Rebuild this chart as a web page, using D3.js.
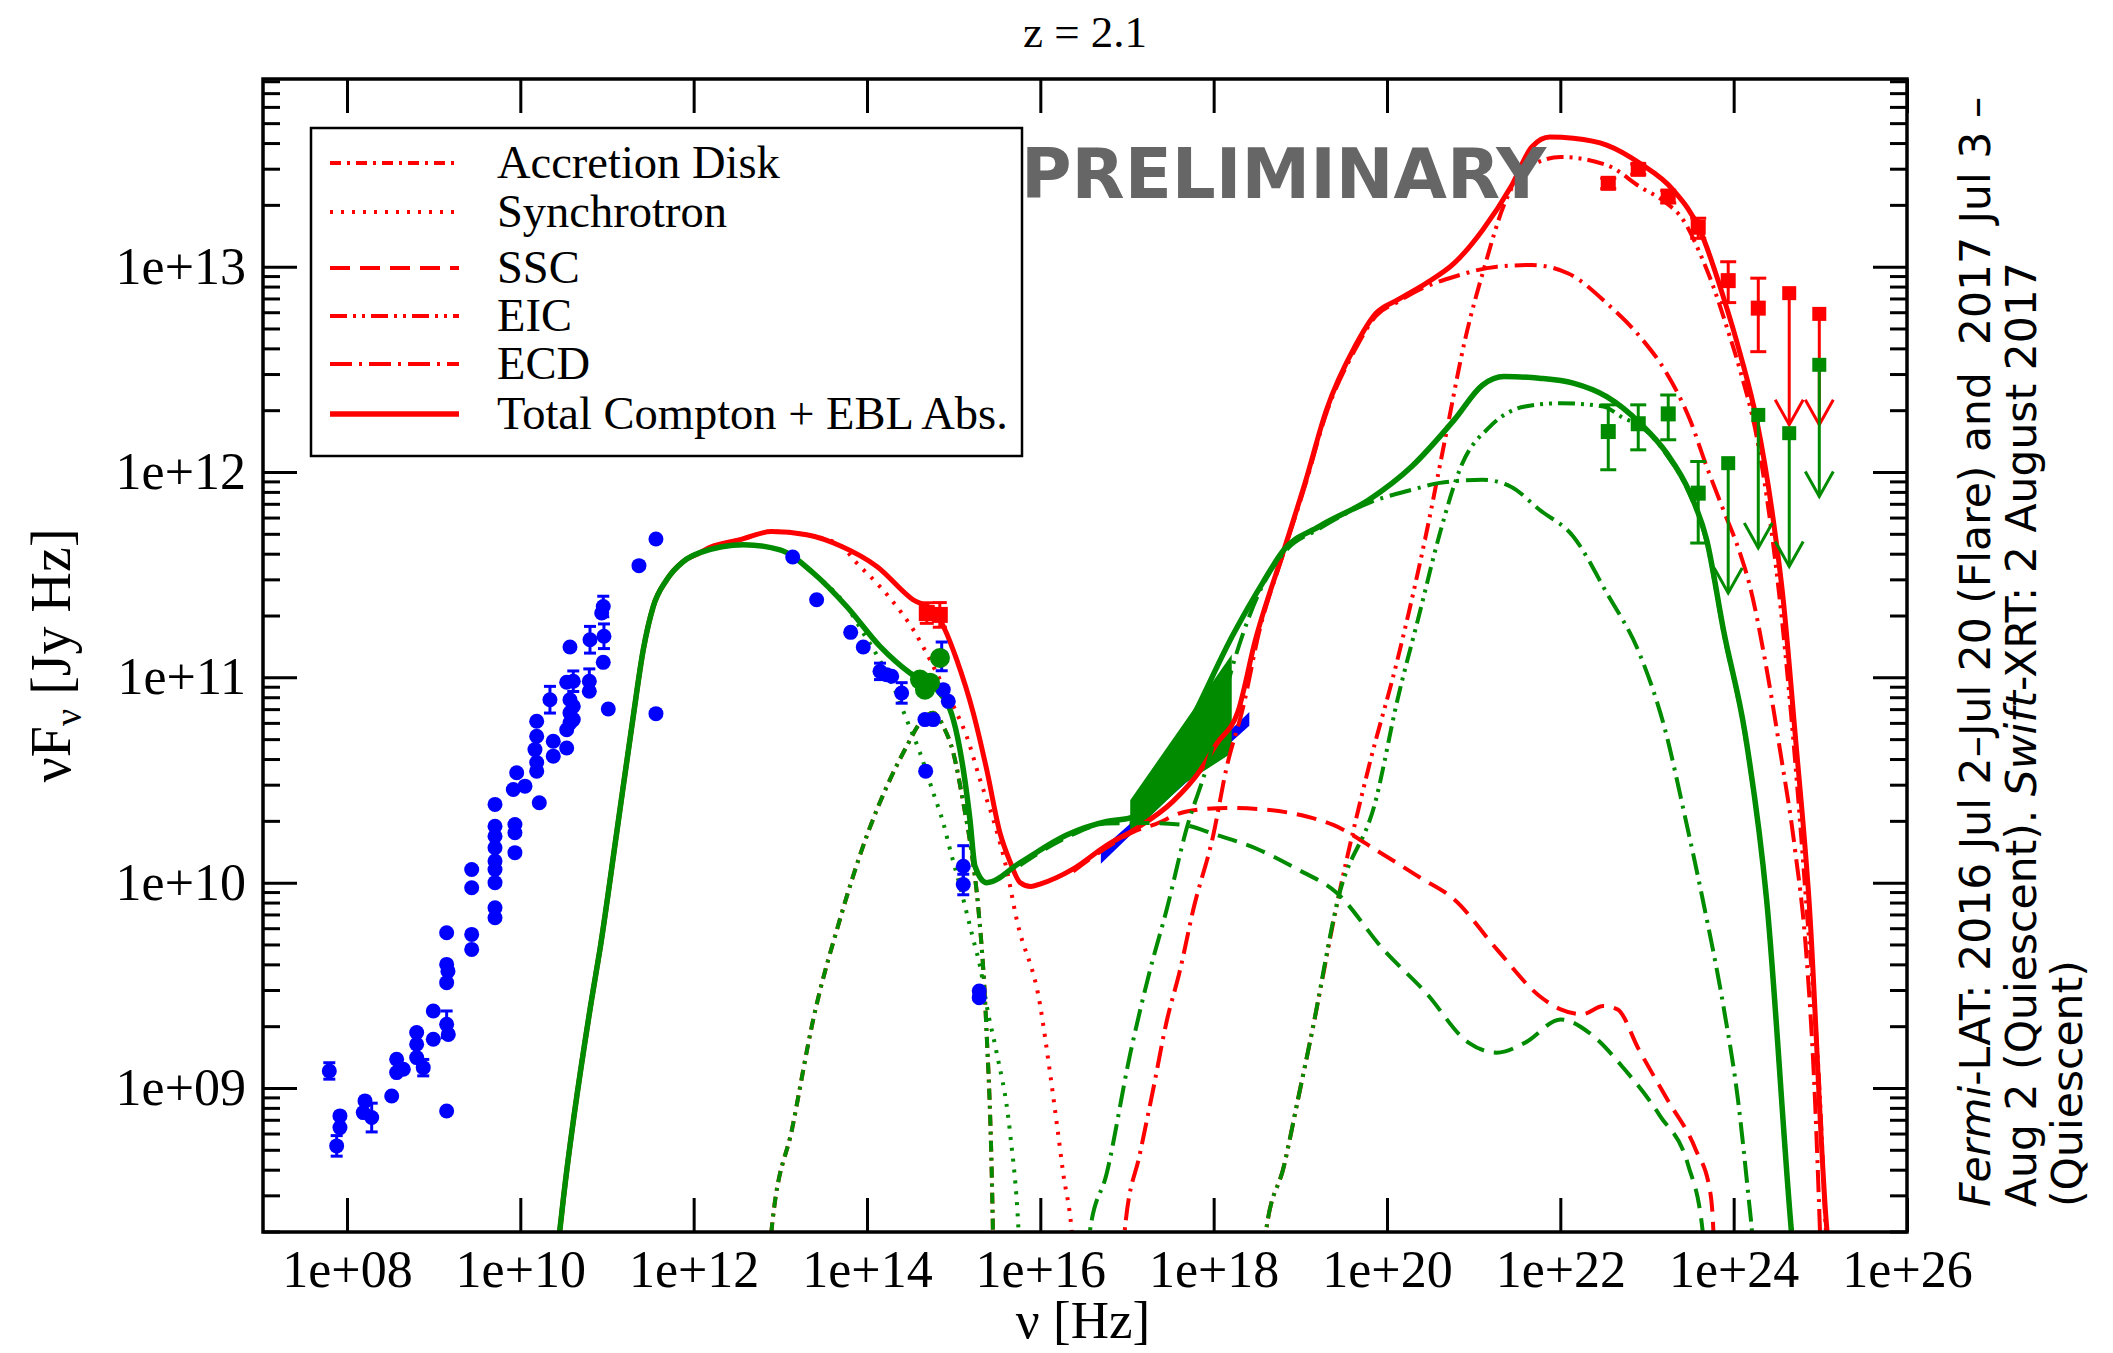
<!DOCTYPE html>
<html>
<head>
<meta charset="utf-8">
<title>SED z = 2.1</title>
<script src="https://d3js.org/d3.v7.min.js"></script>
<style>
  body { margin: 0; background: #fff; }
  svg text { font-family: "Liberation Serif", "Times New Roman", serif; }
</style>
</head>
<body>
<div id="chart"></div>
<script>
// every pair is [log10(nu / Hz), log10(nuFnu / Jy Hz)]

const xTickExp = [8, 10, 12, 14, 16, 18, 20, 22, 24, 26];
const yTickExp = [9, 10, 11, 12, 13];
const legendLabels = ["Accretion Disk", "Synchrotron", "SSC", "EIC", "ECD", "Total Compton + EBL Abs."];

// rising synchrotron branch, shared by both states
const synRise = [[10.411,8.166],[10.455,8.304],[10.496,8.458],[10.823,9.432],[10.919,9.675],[11.112,10.243],
  [11.303,10.81],[11.419,11.135],[11.534,11.345],[11.689,11.475],[11.880,11.564],[12.073,11.607]];

const greenTotal = synRise.concat([[12.576,11.646],[12.996,11.621],[13.380,11.508],[13.766,11.345],[14.150,11.151],
  [14.496,11.021],[14.804,10.94],[14.996,10.794],[15.111,10.551],[15.188,10.307],[15.246,10.08],[15.381,10.0],
  [15.765,10.097],[16.304,10.232],[16.765,10.298],[17.046,10.317],[17.663,10.729],[18.234,11.216],[18.564,11.459],
  [18.811,11.621],[19.220,11.735],[19.792,11.865],[20.285,12.027],[20.776,12.254],[21.104,12.424],[21.350,12.465],
  [21.759,12.457],[22.149,12.433],[22.535,12.367],[22.919,12.238],[23.227,12.092],[23.496,11.897],[23.688,11.67],
  [23.888,11.218],[24.130,10.731],[24.380,9.918],[24.666,8.304],[24.695,8.165]]);

const redTotal = synRise.concat([[12.171,11.630],[12.534,11.67],[12.900,11.710],[13.304,11.694],[13.709,11.637],
  [14.114,11.54],[14.531,11.378],[14.784,11.32],[14.900,11.232],[15.035,11.086],[15.226,10.827],[15.381,10.551],
  [15.534,10.243],[15.650,10.103],[15.765,10.001],[15.892,9.981],[15.996,9.993],[16.380,10.067],[16.765,10.182],
  [17.112,10.265],[17.534,10.397],[17.842,10.545],[18.035,10.677],[18.280,10.833],[18.482,11.183],[18.811,11.621],
  [19.054,11.946],[19.302,12.303],[19.630,12.611],[19.873,12.773],[20.121,12.838],[20.449,12.919],[20.776,13.017],
  [21.104,13.179],[21.430,13.389],[21.673,13.584],[21.880,13.631],[22.149,13.625],[22.535,13.592],[22.919,13.503],
  [23.303,13.373],[23.611,13.178],[23.880,12.854],[24.073,12.579],[24.265,12.254],[24.457,11.767],[24.572,11.378],
  [24.708,10.731],[24.869,9.918],[25.077,8.304],[25.111,8.165]]);

const redSync = synRise.concat([[12.171,11.630],[12.534,11.67],[12.900,11.710],[13.304,11.694],[13.709,11.637],
  [13.881,11.557],[14.112,11.459],[14.343,11.345],[14.534,11.232],[14.726,11.086],[14.880,10.956],[15.035,10.827],
  [15.150,10.713],[15.304,10.502],[15.457,10.307],[15.612,10.064],[15.727,9.821],[15.996,9.407],[16.111,9.077],
  [16.189,8.83],[16.265,8.582],[16.362,8.303],[16.388,8.165]]);

const greenSync = synRise.concat([[12.576,11.646],[12.996,11.621],[13.380,11.508],[13.766,11.345],[13.954,11.218],
  [14.112,11.11],[14.303,10.956],[14.458,10.794],[14.612,10.632],[14.765,10.437],[14.880,10.291],[14.958,10.162],
  [15.073,9.983],[15.150,9.854],[15.226,9.724],[15.304,9.594],[15.396,9.368],[15.488,9.188],[15.650,8.784],
  [15.749,8.303],[15.765,8.165]]);

const accretionDisk = [[12.869,8.165],[12.900,8.312],[13.143,8.815],[13.380,9.334],[13.688,9.821],[13.996,10.226],
  [14.265,10.502],[14.458,10.664],[14.612,10.778],[14.765,10.827],[14.880,10.762],[14.996,10.632],[15.111,10.389],
  [15.208,10.145],[15.286,9.87],[15.373,9.334],[15.449,8.395],[15.459,8.165]];

const redSSC = [[16.380,10.055],[16.765,10.171],[17.112,10.254],[17.303,10.281],[17.689,10.347],[18.150,10.364],
  [18.612,10.355],[19.073,10.322],[19.380,10.281],[19.919,10.147],[20.380,10.025],[20.776,9.918],[21.268,9.675],
  [21.759,9.448],[22.004,9.383],[22.250,9.359],[22.496,9.399],[22.659,9.383],[22.905,9.188],[23.233,8.945],
  [23.560,8.702],[23.724,8.507],[23.766,8.304],[23.778,8.166]];

const greenSSC = [[15.765,10.084],[16.304,10.22],[16.765,10.288],[17.265,10.29],[17.649,10.281],[18.035,10.232],
  [18.496,10.165],[18.958,10.067],[19.419,9.951],[19.957,9.675],[20.449,9.464],[20.940,9.221],[21.268,9.172],
  [21.595,9.221],[22.004,9.334],[22.330,9.27],[22.741,9.091],[23.150,8.864],[23.478,8.62],[23.642,8.304],[23.657,8.166]];

const redECD = [[16.965,8.166],[16.977,8.318],[17.150,8.681],[17.303,8.995],[17.458,9.325],[17.611,9.572],
  [17.765,9.869],[17.996,10.232],[18.150,10.562],[18.342,10.858],[18.523,11.218],[18.811,11.612],[19.054,11.933],
  [19.302,12.288],[19.630,12.595],[19.873,12.76],[20.121,12.828],[20.367,12.887],[20.776,12.951],[21.269,13.0],
  [21.673,13.008],[22.086,12.968],[22.535,12.822],[22.919,12.659],[23.227,12.481],[23.496,12.254],[23.688,12.027],
  [23.880,11.816],[24.073,11.605],[24.188,11.443],[24.361,11.086],[24.534,10.648],[24.708,10.161],[24.834,9.675],
  [24.938,8.945],[24.996,8.302],[25.007,8.166]];

const greenECD = [[16.550,8.166],[16.573,8.305],[16.765,8.582],[17.034,9.16],[17.265,9.572],[17.458,9.869],
  [17.689,10.265],[17.919,10.562],[18.234,11.076],[18.557,11.441],[18.811,11.607],[19.220,11.724],[19.792,11.85],
  [20.285,11.913],[20.611,11.947],[21.104,11.962],[21.430,11.928],[21.759,11.816],[22.149,11.686],[22.535,11.411],
  [22.919,11.11],[23.208,10.746],[23.433,10.332],[23.643,9.918],[23.888,9.383],[24.049,8.945],[24.174,8.458],
  [24.211,8.302],[24.234,8.166]];

const redEIC = [[18.592,8.166],[18.604,8.302],[18.811,8.62],[18.973,8.945],[19.134,9.271],[19.434,9.918],
  [19.792,10.567],[20.121,11.086],[20.438,11.67],[20.669,12.157],[20.900,12.643],[21.131,13.008],[21.350,13.3],
  [21.592,13.471],[22.004,13.534],[22.535,13.495],[22.919,13.389],[23.227,13.309],[23.419,13.227],[23.611,13.065],
  [23.765,12.903],[23.919,12.708],[24.073,12.497],[24.265,12.173],[24.419,11.767],[24.557,11.281],[24.708,10.599],
  [24.834,9.918],[24.996,8.945],[25.065,8.302],[25.088,8.166]];

const greenEIC = [[18.592,8.166],[18.604,8.302],[18.811,8.62],[18.973,8.945],[19.134,9.271],[19.434,9.918],
  [19.873,10.405],[20.121,10.891],[20.367,11.297],[20.611,11.703],[20.854,12.027],[21.188,12.221],[21.592,12.319],
  [22.004,12.335],[22.496,12.319],[22.723,12.264],[22.919,12.225],[23.227,12.084],[23.496,11.889],[23.688,11.66],
  [23.888,11.208],[24.130,10.721],[24.380,9.908],[24.666,8.302],[24.695,8.166]];

// radio to UV photometry: [log nu, log nuFnu, error in dex]
const bluePoints = [[11.565,11.674,0],[11.369,11.544,0],[10.957,11.345,0.05],[10.939,11.313,0],[10.804,11.183,0.065],
  [10.965,11.2,0.06],[10.573,11.148,0],[10.957,11.073,0],[10.796,10.981,0.06],[10.796,10.932,0],[10.535,10.976,0],
  [10.611,10.981,0.05],[10.342,10.891,0.065],[10.573,10.891,0],[10.611,10.859,0],[10.573,10.827,0],[10.573,10.778,0],
  [10.611,10.794,0],[10.535,10.745,0],[11.015,10.846,0],[11.565,10.823,0],[10.189,10.786,0],[10.189,10.713,0],
  [10.169,10.648,0],[10.189,10.585,0],[10.189,10.543,0],[10.380,10.689,0],[10.380,10.616,0],[10.535,10.656,0],
  [9.958,10.535,0],[9.919,10.454,0],[10.054,10.470,0],[10.219,10.389,0],[9.708,10.381,0],[9.708,10.275,0],
  [9.708,10.226,0],[9.708,10.170,0],[9.708,10.105,0],[9.708,10.064,0],[9.708,10.0,0],[9.938,10.283,0],
  [9.938,10.243,0],[9.938,10.146,0],[9.439,10.064,0],[9.439,9.975,0],[9.708,9.878,0],[9.708,9.829,0],
  [9.150,9.756,0],[9.439,9.748,0],[9.439,9.675,0],[9.150,9.602,0],[9.165,9.569,0],[9.150,9.513,0],
  [8.996,9.375,0],[9.150,9.310,0.065],[9.169,9.261,0],[8.804,9.270,0],[8.804,9.213,0],[8.804,9.148,0],
  [8.880,9.099,0.04],[8.996,9.237,0],[8.573,9.140,0],[8.573,9.075,0],[8.650,9.091,0],[8.516,8.961,0],
  [9.150,8.888,0],[8.208,8.937,0],[8.188,8.880,0],[8.285,8.856,0.07],[7.919,8.864,0],[7.919,8.807,0],
  [7.881,8.718,0.05],[7.796,9.083,0.04],
  [13.143,11.586,0],[13.419,11.378,0],[13.812,11.219,0],[13.957,11.148,0],[14.150,11.029,0.04],[14.227,11.013,0],
  [14.285,11.005,0],[14.400,10.924,0.05],[14.862,11.102,0.07],[14.880,10.94,0],[14.938,10.883,0],[14.669,10.794,0],
  [14.765,10.794,0],[14.677,10.543,0],[15.111,10.08,0.1],[15.111,9.991,0.05],[15.295,9.472,0],[15.295,9.44,0]];

const redOptical = [[14.69,11.313,0.05],[14.84,11.304,0.06]];
const greenOptical = [[14.611,10.989],[14.727,10.974],[14.669,10.94],[14.842,11.094]];

// X-ray butterflies: upper and lower edges
const blueBowUpper = [[16.71,10.158],[17.5,10.455],[18.4,10.82]];
const blueBowLower = [[16.71,10.104],[17.5,10.425],[18.4,10.766]];
const greenBowUpper = [[17.046,10.40],[18.2,11.10]];
const greenBowLower = [[17.046,10.24],[17.663,10.487],[18.2,10.633]];

// Fermi-LAT: [log nu, log nuFnu, low, high]
const redGamma = [[22.553,13.406,13.38,13.43],[22.899,13.474,13.45,13.50],[23.245,13.344,13.31,13.37],
  [23.591,13.192,13.138,13.236],[23.937,12.932,12.825,13.024],[24.284,12.798,12.586,12.944]];
const greenGamma = [[22.553,12.197,12.011,12.327],[22.899,12.235,12.108,12.327],[23.245,12.283,12.157,12.375],
  [23.591,11.897,11.654,12.051]];
// upper limits: [log nu, log nuFnu, arrow tip]
const redUL = [[24.641,12.871,12.23],[24.988,12.770,12.23]];
const greenUL = [[23.937,12.043,11.411],[24.284,12.278,11.63],[24.641,12.189,11.54],[24.988,12.522,11.881]];

const RED = "#ff0000", GREEN = "#008b00", BLUE = "#0000ff";
const DASH = {disk: "11,6,3,6", sync: "3,8", ssc: "20,10", eic: "17,6,3,6,3,6", ecd: "22,7,3,7", total: null};

const W = 2113, H = 1353;
const margin = {top: 79, right: 206, bottom: 121, left: 263};
const width = W - margin.left - margin.right;
const height = H - margin.top - margin.bottom;

const svg = d3.select("#chart").append("svg")
    .attr("width", W)
    .attr("height", H);

const g = svg.append("g")
    .attr("transform", "translate(" + margin.left + "," + margin.top + ")");

const x = d3.scaleLog().domain([Math.pow(10, 7.031), 1e26]).range([0, width]);
const y = d3.scaleLog().domain([Math.pow(10, 8.2986), Math.pow(10, 13.914)]).range([height, 0]);
const px = d => x(Math.pow(10, d[0]));
const py = d => y(Math.pow(10, d[1]));

// clip region
g.append("defs").append("clipPath").attr("id", "clip")
    .append("rect").attr("width", width).attr("height", height);

const plot = g.append("g").attr("clip-path", "url(#clip)");

// butterflies
const bowArea = (upper, lower) => {
    const pts = upper.map(d => [px(d), py(d)]).concat(lower.slice().reverse().map(d => [px(d), py(d)]));
    return "M" + pts.map(p => p.join(",")).join("L") + "Z";
};
plot.append("path").attr("d", bowArea(blueBowUpper, blueBowLower)).attr("fill", BLUE).attr("stroke", BLUE).attr("stroke-width", 2);
plot.append("path").attr("d", bowArea(greenBowUpper, greenBowLower)).attr("fill", GREEN).attr("stroke", GREEN).attr("stroke-width", 1.5);

// model curves
const lineGen = d3.line().x(px).y(py).curve(d3.curveMonotoneX);
const curves = [
    {data: accretionDisk, color: RED, dash: DASH.disk, w: 4},
    {data: redSync, color: RED, dash: DASH.sync, w: 4},
    {data: redSSC, color: RED, dash: DASH.ssc, w: 4},
    {data: redEIC, color: RED, dash: DASH.eic, w: 4},
    {data: redECD, color: RED, dash: DASH.ecd, w: 4},
    {data: redTotal, color: RED, dash: DASH.total, w: 5},
    {data: accretionDisk, color: GREEN, dash: DASH.disk, w: 4},
    {data: greenSync, color: GREEN, dash: DASH.sync, w: 4},
    {data: greenSSC, color: GREEN, dash: DASH.ssc, w: 4},
    {data: greenEIC, color: GREEN, dash: DASH.eic, w: 4},
    {data: greenECD, color: GREEN, dash: DASH.ecd, w: 4},
    {data: greenTotal, color: GREEN, dash: DASH.total, w: 5.5}
];
curves.forEach(c => {
    plot.append("path").datum(c.data)
        .attr("d", lineGen)
        .attr("fill", "none")
        .attr("stroke", c.color)
        .attr("stroke-width", c.w)
        .attr("stroke-dasharray", c.dash)
        .attr("stroke-linejoin", "round");
});

// data points
const pts = g.append("g");

function errBar(cx, yLo, yHi, color, cap) {
    pts.append("line").attr("x1", cx).attr("x2", cx).attr("y1", yLo).attr("y2", yHi)
        .attr("stroke", color).attr("stroke-width", 3);
    [yLo, yHi].forEach(yy => pts.append("line")
        .attr("x1", cx - cap).attr("x2", cx + cap).attr("y1", yy).attr("y2", yy)
        .attr("stroke", color).attr("stroke-width", 3));
}

bluePoints.forEach(d => {
    if (d[2] > 0) errBar(px(d), y(Math.pow(10, d[1] - d[2])), y(Math.pow(10, d[1] + d[2])), BLUE, 6);
    pts.append("circle").attr("cx", px(d)).attr("cy", py(d)).attr("r", 7.5).attr("fill", BLUE);
});

redOptical.forEach(d => {
    errBar(px(d), y(Math.pow(10, d[1] - d[2])), y(Math.pow(10, d[1] + d[2])), RED, 7);
    pts.append("rect").attr("x", px(d) - 8).attr("y", py(d) - 8).attr("width", 16).attr("height", 16).attr("fill", RED);
});

greenOptical.forEach(d => {
    pts.append("circle").attr("cx", px(d)).attr("cy", py(d)).attr("r", 10).attr("fill", GREEN);
});

function drawGamma(data, color) {
    data.forEach(d => {
        errBar(px(d), y(Math.pow(10, d[2])), y(Math.pow(10, d[3])), color, 8);
        pts.append("rect").attr("x", px(d) - 7.5).attr("y", py(d) - 7.5)
            .attr("width", 15).attr("height", 15).attr("fill", color);
    });
}

function drawUL(data, color) {
    data.forEach(d => {
        const cx = px(d), y0 = py(d), y1 = y(Math.pow(10, d[2]));
        pts.append("line").attr("x1", cx).attr("x2", cx).attr("y1", y0).attr("y2", y1)
            .attr("stroke", color).attr("stroke-width", 3);
        pts.append("path").attr("d", "M" + (cx - 14) + "," + (y1 - 25) + "L" + cx + "," + y1 + "L" + (cx + 14) + "," + (y1 - 25))
            .attr("fill", "none").attr("stroke", color).attr("stroke-width", 3);
        pts.append("rect").attr("x", cx - 7).attr("y", y0 - 7)
            .attr("width", 14).attr("height", 14).attr("fill", color);
    });
}

drawGamma(redGamma, RED);
drawUL(redUL, RED);
drawGamma(greenGamma, GREEN);
drawUL(greenUL, GREEN);

// axes
const fmt = v => "1e+" + String(Math.round(Math.log10(v))).padStart(2, "0");
const xTicks = xTickExp.map(e => Math.pow(10, e));
const yTicks = yTickExp.map(e => Math.pow(10, e));
const yMinor = [];
for (let e = 8; e <= 13; e++) {
    for (let m = 2; m <= 9; m++) {
        const v = m * Math.pow(10, e);
        if (v > y.domain()[0] && v < y.domain()[1]) yMinor.push(v);
    }
}

function styleAxis(sel) {
    sel.attr("font-size", 52).attr("font-family", "Liberation Serif");
    sel.select(".domain").remove();
    sel.selectAll("line").attr("stroke", "#000").attr("stroke-width", 3);
    sel.selectAll("text").attr("fill", "#000");
}

g.append("g").attr("transform", "translate(0," + height + ")")
    .call(d3.axisBottom(x).tickValues(xTicks).tickFormat(fmt).tickSizeInner(-34).tickSizeOuter(0).tickPadding(18))
    .call(styleAxis);
g.append("g")
    .call(d3.axisTop(x).tickValues(xTicks).tickFormat("").tickSizeInner(-34).tickSizeOuter(0))
    .call(styleAxis);
g.append("g")
    .call(d3.axisLeft(y).tickValues(yTicks).tickFormat(fmt).tickSizeInner(-34).tickSizeOuter(0).tickPadding(17))
    .call(styleAxis);
g.append("g")
    .call(d3.axisLeft(y).tickValues(yMinor).tickFormat("").tickSizeInner(-17).tickSizeOuter(0))
    .call(styleAxis);
g.append("g").attr("transform", "translate(" + width + ",0)")
    .call(d3.axisRight(y).tickValues(yTicks).tickFormat("").tickSizeInner(-34).tickSizeOuter(0))
    .call(styleAxis);
g.append("g").attr("transform", "translate(" + width + ",0)")
    .call(d3.axisRight(y).tickValues(yMinor).tickFormat("").tickSizeInner(-17).tickSizeOuter(0))
    .call(styleAxis);

// frame
g.append("rect")
    .attr("width", width).attr("height", height)
    .attr("fill", "none").attr("stroke", "#000").attr("stroke-width", 3.5);

// legend
const legend = g.append("g").attr("transform", "translate(" + (311 - margin.left) + "," + (128 - margin.top) + ")");
legend.append("rect")
    .attr("width", 711).attr("height", 328)
    .attr("fill", "#fff").attr("stroke", "#000").attr("stroke-width", 2.5);
const legendStyles = [DASH.disk, DASH.sync, DASH.ssc, DASH.eic, DASH.ecd, DASH.total];
const legendRows = [35, 84, 140, 188, 236, 286];
legendLabels.forEach((label, i) => {
    const ly = legendRows[i];
    legend.append("line")
        .attr("x1", 19).attr("x2", 148).attr("y1", ly).attr("y2", ly)
        .attr("stroke", RED)
        .attr("stroke-width", i === 5 ? 5.5 : 4)
        .attr("stroke-dasharray", legendStyles[i]);
    legend.append("text")
        .attr("x", 186).attr("y", ly + 15)
        .attr("font-size", 46.5)
        .text(label);
});

// watermark
svg.append("text")
    .attr("x", 1021).attr("y", 198)
    .attr("font-size", 69)
    .style("font-family", "'DejaVu Sans', sans-serif")
    .attr("font-weight", "bold")
    .attr("fill", "#666")
    .text("PRELIMINARY");

// title
svg.append("text")
    .attr("x", margin.left + width / 2).attr("y", 47)
    .attr("text-anchor", "middle")
    .attr("font-size", 45)
    .text("z = 2.1");

// axis titles
svg.append("text")
    .attr("x", margin.left + width / 2 - 2).attr("y", 1338)
    .attr("text-anchor", "middle")
    .attr("font-size", 53)
    .text("\u03bd [Hz]");

const yTitle = svg.append("text")
    .attr("transform", "translate(70," + (margin.top + height / 2) + ") rotate(-90)")
    .attr("text-anchor", "middle")
    .attr("font-size", 56);
yTitle.append("tspan").text("\u03bdF");
yTitle.append("tspan").attr("font-size", 38).attr("dy", 11).text("\u03bd");
yTitle.append("tspan").attr("dy", -11).text(" [Jy Hz]");

// side note
const note = [
    [["Fermi", true], ["-LAT: 2016 Jul 2\u2013Jul 20 (Flare) and  2017 Jul 3 \u2013", false]],
    [["Aug 2 (Quiescent). ", false], ["Swift", true], ["-XRT: 2 August 2017", false]],
    [["(Quiescent)", false]]
];
note.forEach((parts, i) => {
    const t = svg.append("text")
        .attr("transform", "translate(" + (1990 + i * 46) + ",1207) rotate(-90)")
        .attr("font-size", 42.5)
        .style("font-family", "'DejaVu Sans', sans-serif")
        .style("white-space", "pre");
    parts.forEach(p => {
        t.append("tspan").attr("font-style", p[1] ? "italic" : null).text(p[0]);
    });
});
</script>
</body>
</html>
